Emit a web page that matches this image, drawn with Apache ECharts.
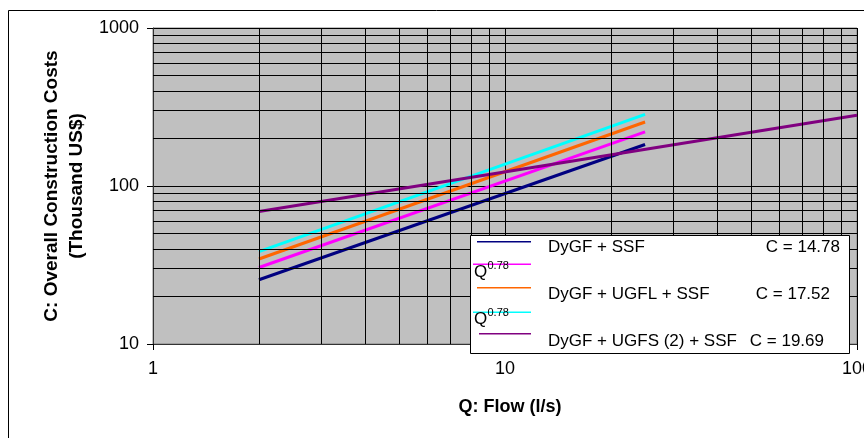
<!DOCTYPE html>
<html>
<head>
<meta charset="utf-8">
<script src="https://cdn.jsdelivr.net/npm/echarts@6/dist/echarts.min.js"></script>
<style>
html,body{margin:0;padding:0;background:#fff;}
#chart{width:864px;height:438px;}
</style>
</head>
<body>
<div id="chart"></div>
<script>
// ---- data ----
const xTicks = [1, 10, 100];
const yTicks = [10, 100, 1000];
const xMinorGrid = [2, 3, 4, 5, 6, 7, 8, 9, 20, 30, 40, 50, 60, 70, 80, 90];
const yMinorGrid = [20, 30, 40, 50, 60, 70, 80, 90, 200, 300, 400, 500, 600, 700, 800, 900];

const dygfSsf = [[2, 25.5], [25, 183]];
const series2 = [[2, 30.5], [25, 220]];
const dygfUgflSsf = [[2, 34.5], [25, 254]];
const series4 = [[2, 38.4], [25, 284]];
const dygfUgfs2Ssf = [[2, 69], [100, 280]];

const seriesNames = ['DyGF + SSF', 'Q^0.78 (a)', 'DyGF + UGFL + SSF', 'Q^0.78 (b)', 'DyGF + UGFS (2) + SSF'];
const seriesColors = ['#000080', '#FF00FF', '#FF6600', '#00FFFF', '#800080'];
const legendC = ['C = 14.78', 'C = 17.52', 'C = 19.69'];
const exponentText = '0.78';

const FONT = "'Liberation Sans', Arial, sans-serif";
const chart = echarts.init(document.getElementById('chart'));

const dataSets = [dygfSsf, series2, dygfUgflSsf, series4, dygfUgfs2Ssf];
const lineSeries = dataSets.map((d, i) => ({
  name: seriesNames[i],
  type: 'line',
  data: d,
  symbol: 'none',
  showSymbol: false,
  z: 3,
  lineStyle: { color: seriesColors[i], width: 3 },
  itemStyle: { color: seriesColors[i] },
  animation: false
}));

const gridSeries = {
  name: 'grid',
  type: 'line',
  data: [],
  silent: true,
  z: 1,
  animation: false,
  markLine: {
    silent: true,
    animation: false,
    symbol: ['none', 'none'],
    label: { show: false },
    lineStyle: { color: '#000', width: 1, type: 'solid' },
    emphasis: { disabled: true },
    data: xMinorGrid.map(v => ({ xAxis: v })).concat(yMinorGrid.map(v => ({ yAxis: v })))
  }
};

// legend (drawn as graphic)
const lx0 = 470.5, ly0 = 235.5;
const g = [];
g.push({ type: 'rect', shape: { x: 8.5, y: 10.5, width: 900, height: 500 }, style: { fill: 'none', stroke: '#000', lineWidth: 1 }, z: 0, silent: true });
g.push({ type: 'rect', shape: { x: lx0, y: ly0, width: 379, height: 118 }, style: { fill: '#fff', stroke: '#000', lineWidth: 1 }, z: 10 });
const legLineY = [241.7, 264.3, 287.7, 312.3, 333.7];
const legLineX0 = [477, 473, 477, 473, 479];
legLineY.forEach((y, i) => {
  g.push({ type: 'line', shape: { x1: legLineX0[i], y1: y, x2: 531, y2: y }, style: { stroke: seriesColors[i], lineWidth: 1.5 }, z: 11 });
});
const textRows = [
  { name: seriesNames[0], c: legendC[0], y: 247, cx: 840 },
  { name: seriesNames[2], c: legendC[1], y: 294.3, cx: 830 },
  { name: seriesNames[4], c: legendC[2], y: 341, cx: 824 }
];
textRows.forEach(r => {
  g.push({ type: 'text', x: 548, y: r.y, style: { text: r.name, font: '17px ' + FONT, fill: '#000', textAlign: 'left', textVerticalAlign: 'middle' }, z: 12 });
  g.push({ type: 'text', x: r.cx, y: r.y, style: { text: r.c, font: '17px ' + FONT, fill: '#000', textAlign: 'right', textVerticalAlign: 'middle' }, z: 12 });
});
[272, 319].forEach(y => {
  g.push({ type: 'text', x: 474, y: y, style: { text: 'Q', font: '17px ' + FONT, fill: '#000', textAlign: 'left', textVerticalAlign: 'middle' }, z: 12 });
  g.push({ type: 'text', x: 487.5, y: y - 6, style: { text: exponentText, font: '11px ' + FONT, fill: '#000', textAlign: 'left', textVerticalAlign: 'middle' }, z: 12 });
});
// axis titles
g.push({ type: 'text', x: 64.5, y: 186, rotation: Math.PI / 2, style: { text: 'C: Overall Construction Costs\n(Thousand US$)', font: 'bold 19px ' + FONT, fill: '#000', textAlign: 'center', textVerticalAlign: 'middle', lineHeight: 25 }, z: 12 });
g.push({ type: 'text', x: 510, y: 407, style: { text: 'Q: Flow (l/s)', font: 'bold 18px ' + FONT, fill: '#000', textAlign: 'center', textVerticalAlign: 'middle' }, z: 12 });

chart.setOption({
  animation: false,
  backgroundColor: '#fff',
  grid: { left: 153, top: 28, right: 7, bottom: 94, show: true, backgroundColor: '#C0C0C0', borderColor: '#808080', borderWidth: 1, containLabel: false, outerBoundsMode: 'none' },
  xAxis: {
    type: 'log', logBase: 10, min: xTicks[0], max: xTicks[xTicks.length - 1],
    axisLine: { show: true, lineStyle: { color: '#333', width: 1 } },
    axisTick: { show: true, length: 6, inside: false, lineStyle: { color: '#000' } },
    axisLabel: { show: true, margin: 16, fontSize: 18, fontFamily: FONT, color: '#000', showMaxLabel: true, showMinLabel: true, hideOverlap: false, formatter: v => String(Math.round(v)) },
    splitLine: { show: true, lineStyle: { color: '#000', width: 1 } },
    minorTick: { show: false }, minorSplitLine: { show: false }
  },
  yAxis: {
    type: 'log', logBase: 10, min: yTicks[0], max: yTicks[yTicks.length - 1],
    axisLine: { show: true, lineStyle: { color: '#333', width: 1 } },
    axisTick: { show: true, length: 6, inside: false, lineStyle: { color: '#000' } },
    axisLabel: { show: true, margin: 14, fontSize: 18, fontFamily: FONT, color: '#000', showMaxLabel: true, showMinLabel: true, formatter: v => String(Math.round(v)) },
    splitLine: { show: true, lineStyle: { color: '#000', width: 1 } },
    minorTick: { show: false }, minorSplitLine: { show: false }
  },
  series: [gridSeries].concat(lineSeries),
  graphic: g
});
</script>
</body>
</html>
